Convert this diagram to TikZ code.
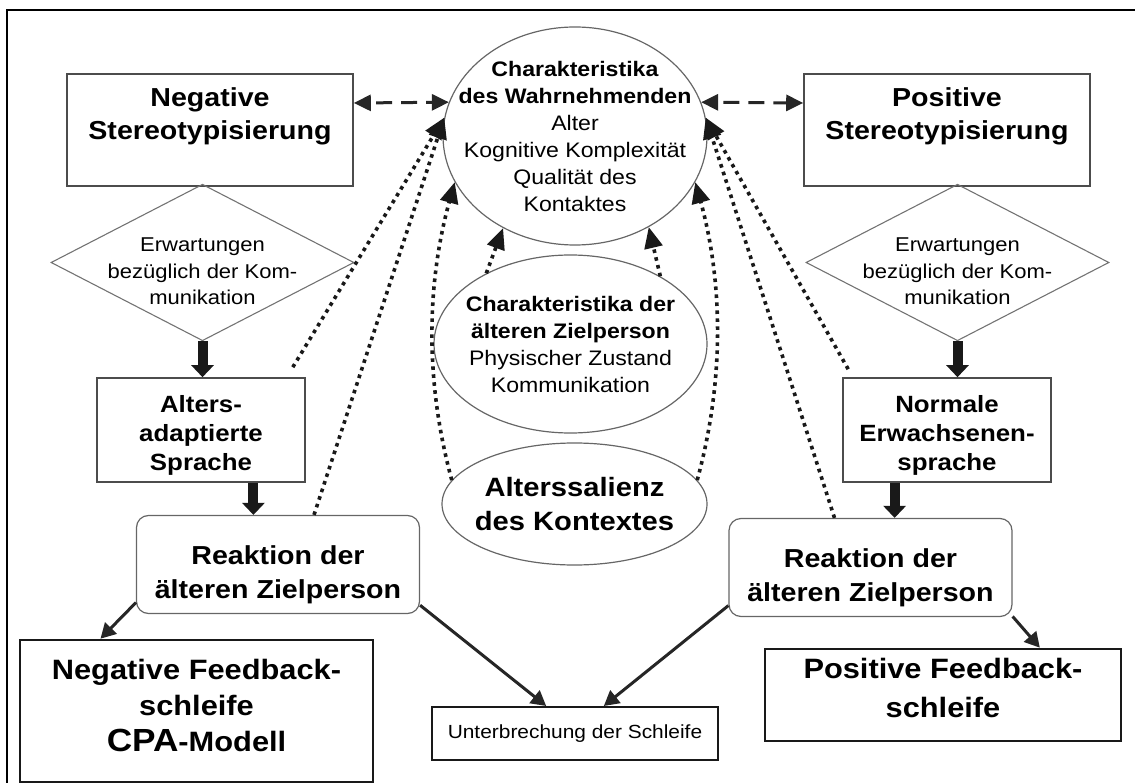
\documentclass[tikz,border=0pt]{standalone}
\usepackage{fontspec}
\setmainfont{Liberation Sans}[FakeStretch=1.1]
\usetikzlibrary{calc}
\usetikzlibrary{arrows.meta}
\usetikzlibrary{shapes.geometric}
\tikzset{>=latex}
\tikzstyle{stereo} = [rectangle, draw=black!70, line width=1.6pt, minimum width=286pt, minimum height=112pt, inner sep=0, align=center, font=\fontsize{26}{33}\selectfont\bfseries, text height=52pt, text depth=32.5pt]
\tikzstyle{erw} = [diamond, draw=black!55, line width=1.1pt, minimum width=303pt, minimum height=149pt, inner sep=-30pt, align=center, font=\fontsize{20}{26.5}\selectfont, text height=86pt, text depth=1pt]
\tikzstyle{sprache} = [rectangle, draw=black!70, line width=1.6pt, minimum width=208pt, minimum height=104pt, inner sep=2pt, align=center, font=\fontsize{23.5}{29}\selectfont\bfseries, text height=80pt, text depth=0pt]
\tikzstyle{reak} = [rectangle, rounded corners=12pt, draw=black!60, line width=1.2pt, minimum width=283pt, minimum height=98pt, inner sep=2pt, align=center, font=\fontsize{26}{34}\selectfont\bfseries, text height=70pt, text depth=2.5pt]
\tikzstyle{charell} = [ellipse, draw=black!60, line width=1.2pt, inner sep=-30pt, align=center, font=\fontsize{21}{27}\selectfont]
\tikzstyle{feedback} = [rectangle, draw=black!90, line width=2.6pt, inner sep=2pt, align=center]
\tikzstyle{fatarr} = [-{Triangle[width=22pt,length=12pt]}, line width=10pt, draw=black!90]
\tikzstyle{solarr} = [-{Triangle[width=16pt,length=15pt]}, line width=3pt, draw=black!85]
\tikzstyle{dotarr} = [-{Triangle[width=18pt,length=21pt]}, line width=3.6pt, dash pattern=on 3.6pt off 4.4pt, draw=black!90]
\tikzstyle{dasharr} = [{Triangle[width=16pt,length=17pt]}-{Triangle[width=16pt,length=17pt]}, line width=3pt, dash pattern=on 16pt off 9pt, dash phase=19pt, draw=black!85]

\begin{document}
\begin{tikzpicture}[x=1pt, y=-1pt]
\useasboundingbox (0,0) rectangle (1135,783);
\draw [line width=2.5pt] (1135,10) -- (7,10) -- (7,783);

% obere Reihe
\node [stereo] (negS) at (210,130) {Negative\\Stereotypisierung};
\node [stereo] (posS) at (947,130) {Positive\\Stereotypisierung};
\node [charell, minimum width=264pt, minimum height=218pt] (wahr) at (575,136) {\textbf{Charakteristika}\\\textbf{des Wahrnehmenden}\\Alter\\Kognitive Komplexität\\Qualität des\\Kontaktes};
\node [erw] (erwL) at (202.5,262.5) {Erwartungen\\bezüglich der Kom-\\munikation};
\node [erw] (erwR) at (957.5,262.5) {Erwartungen\\bezüglich der Kom-\\munikation};

% Mitte
\node [charell, minimum width=273pt, minimum height=178pt] (ziel) at (570.5,344) {\textbf{Charakteristika der}\\\textbf{älteren Zielperson}\\Physischer Zustand\\Kommunikation};
\node [charell, minimum width=265pt, minimum height=122pt, font=\fontsize{26.5}{34}\selectfont\bfseries] (salienz) at (574.5,504) {Alterssalienz\\des Kontextes};
\node [sprache] (altS) at (201,430) {Alters-\\adaptierte\\Sprache};
\node [sprache] (normS) at (947,430) {Normale\\Erwachsenen-\\sprache};
\node [reak] (reakL) at (278,564.5) {Reaktion der\\älteren Zielperson};
\node [reak] (reakR) at (870.5,567.5) {Reaktion der\\älteren Zielperson};

% untere Reihe
\node [feedback, minimum width=353pt, minimum height=142pt, font=\fontsize{28}{36}\selectfont\bfseries, text height=94pt, text depth=14pt] (negF) at (196.5,711) {Negative Feedback-\\schleife\\{\fontsize{32}{36}\selectfont CPA}-Modell};
\node [feedback, minimum width=356pt, minimum height=92pt, font=\fontsize{28}{39}\selectfont\bfseries, text height=59pt, text depth=14pt] (posF) at (943,695) {Positive Feedback-\\schleife};
\node [rectangle, draw=black!90, line width=2pt, minimum width=286pt, minimum height=53pt, font=\fontsize{19}{23}\selectfont] (unterb) at (575,733.5) {Unterbrechung der Schleife};

\coordinate (altM) at ($(altS.south)!0.5!(altS.south east)$);
\coordinate (normM) at ($(normS.south)!0.5!(normS.south west)$);

\draw [dasharr] ([yshift=27pt]negS.east) -- (wahr.165);
\draw [dasharr] (wahr.15) -- ([yshift=27pt]posS.west);

\draw [fatarr] (erwL.south) -- (erwL.south |- altS.north);
\draw [fatarr] (erwR.south) -- (erwR.south |- normS.north);
\draw [fatarr] (altM) -- (altM |- reakL.north);
\draw [fatarr] (normM) -- (normM |- reakR.north);

\draw [solarr] (reakL.195) -- ($(negF.north west)!0.23!(negF.north east)$);
\draw [solarr] (reakL.344) -- ($(unterb.north west)!0.4!(unterb.north east)$);
\draw [solarr] (reakR.195) -- ($(unterb.north west)!0.6!(unterb.north east)$);
\draw [solarr] (reakR.341) -- ($(posF.north west)!0.77!(posF.north east)$);

% Einfluesse auf den Wahrnehmenden
\draw [dotarr] ([shift={(-13,-10)}]altS.north east) -- (wahr.172);
\draw [dotarr] ([xshift=36pt]reakL.north) -- (wahr.172);
\draw [dotarr] (salienz.169) .. controls +(-30,-110) and +(-25,90) .. (wahr.201);
\draw [dotarr] ([shift={(6,-8)}]normS.north west) -- (wahr.8);
\draw [dotarr] ([xshift=-36pt]reakR.north) -- (wahr.8);
\draw [dotarr] (salienz.11) .. controls +(30,-110) and +(25,90) .. (wahr.339);
\draw [dotarr] (ziel.140) -- (wahr.232);
\draw [dotarr] (ziel.37) -- (wahr.309);
\end{tikzpicture}
\end{document}
